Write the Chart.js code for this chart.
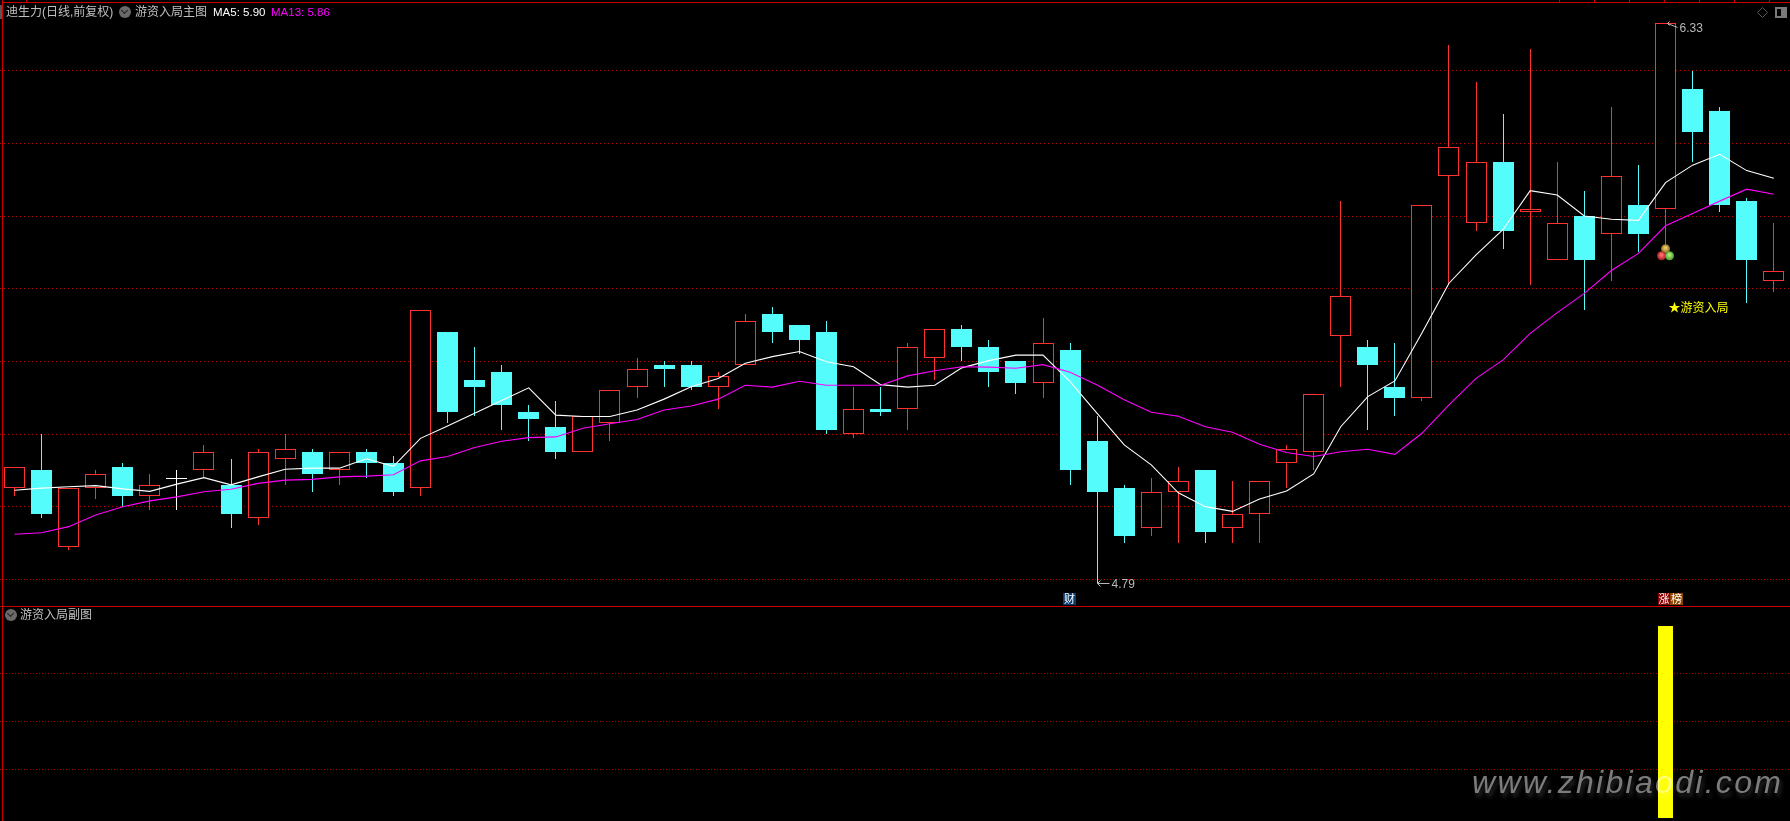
<!doctype html>
<html>

<head>
	<title>游资入局主图</title>
	<script src="https://cdn.jsdelivr.net/npm/chart.js@4/dist/chart.umd.js"></script>
	<style>
		html, body {
			margin: 0;
			padding: 0;
			background: #000;
			overflow: hidden;
		}
		canvas {
			position: absolute;
			left: 0;
			top: 0;
		}
		.tag {
			position: absolute;
			font: 12px/16px "Liberation Sans", "Noto Sans CJK SC", sans-serif;
			color: #c0c0c0;
			white-space: nowrap;
		}
		.dot {
			position: absolute;
			width: 12px;
			height: 12px;
			border-radius: 50%;
			background: #6a6a6a;
		}
		.dot:after {
			content: '';
			position: absolute;
			left: 3px;
			top: 2px;
			width: 4px;
			height: 4px;
			border-right: 1px solid #222;
			border-bottom: 1px solid #222;
			transform: rotate(45deg);
		}
		#watermark {
			position: absolute;
			left: 1472px;
			top: 762px;
			font: italic 32px/40px "Liberation Sans", sans-serif;
			letter-spacing: 2.3px;
			color: #7c7c7c;
			text-shadow: 2px 4px 4px #2a2a2a;
			mix-blend-mode: screen;
			white-space: nowrap;
		}
	</style>
</head>

<body>
	<canvas id="canvas" width="1790" height="821"></canvas>
	<div class="tag" style="left:6px;top:4px">迪生力(日线,前复权)</div>
	<div class="dot" style="left:119px;top:6px"></div>
	<div class="tag" style="left:135px;top:4px">游资入局主图</div>
	<div class="tag" id="ma5Tag" style="left:213px;top:4px;color:#fff;font-size:11.5px"></div>
	<div class="tag" id="ma13Tag" style="left:271px;top:4px;color:#f0f;font-size:11.5px"></div>
	<div class="dot" style="left:5px;top:609px"></div>
	<div class="tag" style="left:20px;top:607px">游资入局副图</div>
	<div id="watermark">www.zhibiaodi.com</div>
	<script>
		const opens = [5.05, 5.10, 4.89, 5.05, 5.11, 5.03, 5.08, 5.10, 5.06, 4.97, 5.13, 5.15, 5.10, 5.15, 5.12, 5.05, 5.48, 5.35, 5.37, 5.26, 5.22, 5.15, 5.23, 5.33, 5.39, 5.39, 5.33, 5.39, 5.53, 5.50, 5.48, 5.20, 5.27, 5.27, 5.41, 5.49, 5.44, 5.40, 5.34, 5.43, 5.18, 5.05, 4.94, 5.04, 5.10, 4.94, 4.98, 5.12, 5.15, 5.47, 5.44, 5.33, 5.30, 5.91, 5.78, 5.95, 5.81, 5.68, 5.80, 5.75, 5.83, 5.82, 6.15, 6.09, 5.84, 5.62];
		const closes = [5.11, 4.98, 5.05, 5.09, 5.03, 5.06, 5.08, 5.15, 4.98, 5.15, 5.16, 5.09, 5.15, 5.12, 5.04, 5.54, 5.26, 5.33, 5.28, 5.24, 5.15, 5.25, 5.32, 5.38, 5.38, 5.33, 5.36, 5.51, 5.48, 5.46, 5.21, 5.27, 5.26, 5.44, 5.49, 5.44, 5.37, 5.34, 5.45, 5.10, 5.04, 4.92, 5.04, 5.07, 4.93, 4.98, 5.07, 5.16, 5.31, 5.58, 5.39, 5.30, 5.83, 5.99, 5.95, 5.76, 5.82, 5.78, 5.68, 5.91, 5.75, 6.33, 6.03, 5.83, 5.68, 5.65];
		const highs = [5.11, 5.20, 5.05, 5.10, 5.12, 5.09, 5.10, 5.17, 5.13, 5.16, 5.20, 5.16, 5.15, 5.16, 5.14, 5.54, 5.48, 5.44, 5.39, 5.28, 5.29, 5.25, 5.32, 5.41, 5.40, 5.40, 5.37, 5.53, 5.55, 5.50, 5.51, 5.33, 5.33, 5.45, 5.49, 5.50, 5.46, 5.40, 5.52, 5.45, 5.25, 5.06, 5.08, 5.11, 5.10, 5.07, 5.07, 5.17, 5.31, 5.84, 5.46, 5.45, 5.83, 6.27, 6.17, 6.08, 6.26, 5.95, 5.87, 6.10, 5.94, 6.33, 6.20, 6.10, 5.85, 5.78];
		const lows = [5.03, 4.97, 4.88, 5.02, 5.00, 4.99, 4.99, 5.08, 4.94, 4.95, 5.06, 5.04, 5.06, 5.08, 5.03, 5.03, 5.23, 5.25, 5.21, 5.18, 5.13, 5.15, 5.18, 5.30, 5.33, 5.32, 5.27, 5.39, 5.45, 5.42, 5.20, 5.19, 5.25, 5.21, 5.35, 5.40, 5.33, 5.31, 5.30, 5.06, 4.79, 4.90, 4.92, 4.90, 4.90, 4.90, 4.90, 5.05, 5.10, 5.33, 5.21, 5.25, 5.29, 5.61, 5.76, 5.71, 5.61, 5.68, 5.54, 5.62, 5.70, 5.71, 5.95, 5.81, 5.56, 5.59];
		const ma5 = [5.045, 5.051, 5.055, 5.058, 5.049, 5.042, 5.062, 5.080, 5.060, 5.082, 5.103, 5.106, 5.106, 5.132, 5.111, 5.188, 5.222, 5.257, 5.292, 5.327, 5.252, 5.248, 5.248, 5.266, 5.296, 5.330, 5.353, 5.395, 5.413, 5.427, 5.399, 5.385, 5.336, 5.329, 5.334, 5.382, 5.402, 5.417, 5.417, 5.344, 5.257, 5.170, 5.115, 5.038, 5.000, 4.987, 5.021, 5.043, 5.090, 5.220, 5.303, 5.346, 5.478, 5.615, 5.693, 5.763, 5.870, 5.858, 5.800, 5.791, 5.788, 5.892, 5.940, 5.970, 5.925, 5.904];
		const ma13 = [4.924, 4.928, 4.945, 4.977, 5.000, 5.016, 5.027, 5.041, 5.048, 5.064, 5.073, 5.075, 5.082, 5.084, 5.088, 5.126, 5.138, 5.163, 5.180, 5.190, 5.192, 5.216, 5.228, 5.240, 5.266, 5.277, 5.296, 5.334, 5.329, 5.345, 5.334, 5.334, 5.334, 5.360, 5.374, 5.385, 5.384, 5.381, 5.391, 5.370, 5.335, 5.294, 5.260, 5.249, 5.220, 5.205, 5.172, 5.149, 5.138, 5.151, 5.158, 5.144, 5.202, 5.280, 5.353, 5.404, 5.477, 5.534, 5.587, 5.650, 5.697, 5.773, 5.807, 5.841, 5.874, 5.860];
		const gridPrices = [4.8, 5.0, 5.2, 5.4, 5.6, 5.8, 6.0, 6.2];
		const subGrid = [0.25, 0.5, 0.75];
		const signalIndex = [61];
		const signalValue = [1];
		const caiIndex = 39;
		const bangIndex = 61;
		const highIndex = 61;
		const lowIndex = 40;

		const RED = '#ff3232';
		const CYAN = '#54fcfc';
		const candleColor = (i) => closes[i] > opens[i] ? RED : closes[i] < opens[i] ? CYAN : '#fff';
		const bodyFill = (i) => closes[i] > opens[i] ? '#000' : candleColor(i);

		document.getElementById('ma5Tag').textContent = 'MA5: ' + ma5[ma5.length - 1].toFixed(2);
		document.getElementById('ma13Tag').textContent = 'MA13: ' + ma13[ma13.length - 1].toFixed(2);

		// the real thing paints on whole pixels, so push the bars onto the grid before drawing
		const pixelSnap = {
			id: 'pixelSnap',
			beforeDatasetDraw(chart, args) {
				if (args.meta.type !== 'bar') return;
				args.meta.data.forEach((bar) => {
					bar.x = Math.floor(bar.x) + 0.5;
					bar.y = Math.round(bar.y);
					bar.base = Math.round(bar.base);
					if (bar.base - bar.y < 1) bar.base = bar.y + 1;
				});
			}
		};

		const frame = {
			id: 'frame',
			afterDatasetsDraw(chart) {
				const ctx = chart.ctx;
				const x = chart.scales.x;
				const y = chart.scales.y;
				ctx.save();

				// panel borders and the little ruler ticks on top
				ctx.fillStyle = '#c80000';
				ctx.fillRect(2, 2, 1788, 1);
				ctx.fillRect(2, 0, 1, 821);
				ctx.fillRect(0, 606, 1790, 1);
				ctx.fillRect(26, 0, 1, 2);
				for (let t = 1559; t < 1790; t += 35) ctx.fillRect(t, 0, 1, 2);
				ctx.fillStyle = '#555';
				ctx.fillRect(0, 5, 2, 14);

				// window icons, top right
				ctx.strokeStyle = '#5a5a5a';
				ctx.beginPath();
				ctx.moveTo(1762.5, 7.5);
				ctx.lineTo(1767.5, 12.5);
				ctx.lineTo(1762.5, 17.5);
				ctx.lineTo(1757.5, 12.5);
				ctx.closePath();
				ctx.stroke();
				ctx.strokeStyle = '#7a7a7a';
				ctx.lineWidth = 2;
				ctx.strokeRect(1776, 8, 10, 9);
				ctx.fillStyle = '#7a7a7a';
				ctx.fillRect(1781, 8, 5, 9);
				ctx.lineWidth = 1;

				// high / low price tags
				ctx.font = '12px "Liberation Sans", sans-serif';
				ctx.textBaseline = 'middle';
				ctx.textAlign = 'left';
				ctx.strokeStyle = '#b8b8b8';
				ctx.fillStyle = '#b8b8b8';
				const hx = Math.floor(x.getPixelForValue(highIndex)) + 0.5;
				const hy = y.getPixelForValue(highs[highIndex]);
				ctx.beginPath();
				ctx.moveTo(hx + 2, hy);
				ctx.lineTo(hx + 4, hy - 2);
				ctx.moveTo(hx + 2, hy);
				ctx.lineTo(hx + 4, hy + 2);
				ctx.moveTo(hx + 2, hy);
				ctx.lineTo(hx + 12, hy + 4);
				ctx.stroke();
				ctx.fillText(highs[highIndex].toFixed(2), hx + 14, hy + 5.5);

				const lx = Math.floor(x.getPixelForValue(lowIndex)) + 0.5;
				const ly = Math.round(y.getPixelForValue(lows[lowIndex])) + 0.5;
				ctx.beginPath();
				ctx.moveTo(lx, ly);
				ctx.lineTo(lx + 12, ly);
				ctx.moveTo(lx, ly);
				ctx.lineTo(lx + 3, ly - 3);
				ctx.moveTo(lx, ly);
				ctx.lineTo(lx + 3, ly + 3);
				ctx.stroke();
				ctx.fillText(lows[lowIndex].toFixed(2), lx + 14, ly + 1);

				// the three balls under the signal candle
				const bx = x.getPixelForValue(signalIndex[0]);
				const by = y.getPixelForValue(lows[signalIndex[0]]);
				[[0, 0, '#e8c860', '#8a6a20'], [-4, 7, '#ff6a6a', '#a02020'], [4, 7, '#a8e870', '#4a9a30']].forEach((b) => {
					const g = ctx.createRadialGradient(bx + b[0], by + b[1] - 1, 1, bx + b[0], by + b[1], 4.5);
					g.addColorStop(0, b[2]);
					g.addColorStop(1, b[3]);
					ctx.fillStyle = g;
					ctx.beginPath();
					ctx.arc(bx + b[0], by + b[1], 4.5, 0, Math.PI * 2);
					ctx.fill();
				});

				// signal text
				ctx.font = '12px "Noto Sans CJK SC", sans-serif';
				ctx.fillStyle = '#ffff00';
				ctx.fillText('★游资入局', bx + 3, by + 59);

				// event markers above the separator
				ctx.font = '11px "Noto Sans CJK SC", sans-serif';
				ctx.textAlign = 'center';
				const cai = Math.round(x.getPixelForValue(caiIndex));
				ctx.fillStyle = '#0a3a70';
				ctx.fillRect(cai - 7, 593, 13, 12);
				ctx.fillStyle = '#fff';
				ctx.fillText('财', cai - 0.5, 599);
				const bang = Math.round(x.getPixelForValue(bangIndex));
				ctx.fillStyle = '#8b0000';
				ctx.fillRect(bang - 8, 593, 12, 12);
				ctx.fillStyle = '#8b4500';
				ctx.fillRect(bang + 4, 593, 13, 12);
				ctx.fillStyle = '#fff';
				ctx.fillText('涨', bang - 2, 599);
				ctx.fillText('榜', bang + 10.5, 599);

				ctx.restore();
			}
		};

		window.onload = function() {
			const ctx = document.getElementById('canvas').getContext('2d');
			window.myChart = new Chart(ctx, {
				type: 'bar',
				plugins: [pixelSnap, frame],
				data: {
					datasets: [{
						label: 'MA5',
						type: 'line',
						data: ma5.map((v, i) => ({x: i, y: v})),
						borderColor: '#fff',
						borderWidth: 1.1,
						pointRadius: 0,
						yAxisID: 'y',
						order: 1
					}, {
						label: 'MA13',
						type: 'line',
						data: ma13.map((v, i) => ({x: i, y: v})),
						borderColor: '#f0f',
						borderWidth: 1.1,
						pointRadius: 0,
						yAxisID: 'y',
						order: 0
					}, {
						label: 'body',
						data: opens.map((v, i) => ({x: i, y: [v, closes[i]]})),
						backgroundColor: opens.map((v, i) => bodyFill(i)),
						borderColor: opens.map((v, i) => candleColor(i)),
						borderWidth: 1,
						borderSkipped: false,
						inflateAmount: 0,
						barThickness: 21,
						grouped: false,
						yAxisID: 'y',
						order: 2
					}, {
						label: 'wick',
						data: lows.map((v, i) => ({x: i, y: [v, highs[i]]})),
						backgroundColor: lows.map((v, i) => candleColor(i)),
						borderWidth: 0,
						inflateAmount: 0,
						barThickness: 1,
						grouped: false,
						yAxisID: 'y',
						order: 3
					}, {
						label: 'signal',
						data: signalIndex.map((v, i) => ({x: v, y: signalValue[i]})),
						backgroundColor: '#ffff00',
						borderWidth: 0,
						inflateAmount: 0,
						barThickness: 15,
						grouped: false,
						yAxisID: 'y2',
						order: 4
					}]
				},
				options: {
					responsive: false,
					animation: false,
					events: [],
					layout: {padding: 0},
					plugins: {
						legend: {display: false},
						title: {display: false},
						tooltip: {enabled: false}
					},
					scales: {
						x: {
							type: 'linear',
							display: false,
							offset: false,
							min: -14.5 / 27.066,
							max: (1790 - 14.5) / 27.066
						},
						y: {
							type: 'linear',
							stack: 'panels',
							stackWeight: 606.5,
							weight: 1,
							min: 6.2 - (606.5 - 70.7) / 363.3,
							max: 6.2 + 70.7 / 363.3,
							afterBuildTicks: (axis) => {
								axis.ticks = gridPrices.map((value) => ({value}));
							},
							ticks: {display: false},
							grid: {color: '#c00000', drawTicks: false},
							border: {
								display: false,
								dash: (c) => c.tick && c.tick.value === 4.8 ? [1, 2] : [1, 3]
							}
						},
						y2: {
							type: 'linear',
							position: 'left',
							stack: 'panels',
							stackWeight: 214.5,
							weight: 0,
							min: -(821 - 817.7) / 191.7,
							max: 1 + (626 - 606.5) / 191.7,
							afterBuildTicks: (axis) => {
								axis.ticks = subGrid.map((value) => ({value}));
							},
							ticks: {display: false},
							grid: {color: '#a80000', drawTicks: false},
							border: {display: false, dash: [1, 2]}
						}
					}
				}
			});
		};
	</script>
</body>

</html>
